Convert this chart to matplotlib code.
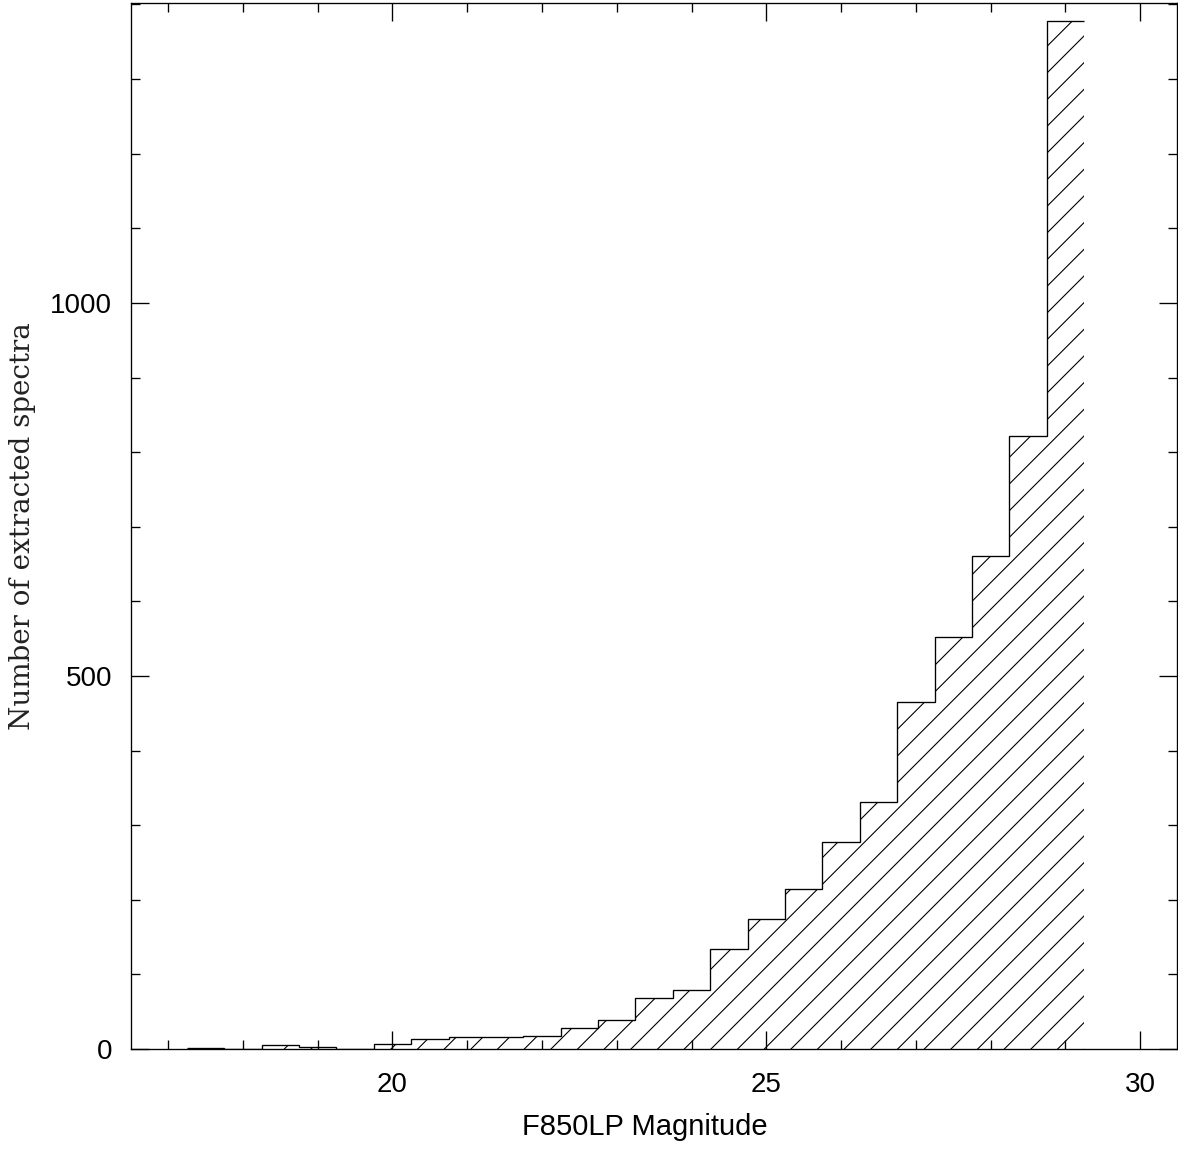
import numpy as np
import matplotlib.pyplot as plt
from matplotlib.ticker import MultipleLocator

# F850LP magnitude bins (0.5 mag wide) and counts of extracted spectra
bin_edges = np.arange(17.25, 29.26, 0.5)
counts = [1, 0, 5, 3, 0, 7, 13, 16, 16, 17, 28, 39, 68, 79,
          134, 174, 214, 277, 331, 465, 552, 661, 822, 1378]

plt.rcParams['hatch.linewidth'] = 0.5
plt.rcParams['hatch.color'] = 'black'

fig = plt.figure(figsize=(1178 / 160, 1151 / 160), dpi=160)
ax = fig.add_axes([0.1116, 0.0886, 0.8874, 0.9088])

# hatched fill under the histogram, then the step outline (no closing edges)
ax.stairs(counts, bin_edges, fill=True, hatch='//', facecolor='none',
          edgecolor='black', linewidth=0)
ax.stairs(counts, bin_edges, baseline=None, color='black', linewidth=0.6)

ax.set_xlim(16.51, 30.49)
ax.set_ylim(0, 1402)

ax.xaxis.set_major_locator(MultipleLocator(5))
ax.xaxis.set_minor_locator(MultipleLocator(1))
ax.yaxis.set_major_locator(MultipleLocator(500))
ax.yaxis.set_minor_locator(MultipleLocator(100))
ax.tick_params(which='both', direction='in', top=True, right=True,
               width=0.6, colors='black')
ax.tick_params(which='major', length=8, labelsize=12.5)
ax.tick_params(axis='x', which='major', pad=10.5)
ax.tick_params(axis='y', which='major', pad=8.7)
ax.tick_params(which='minor', length=4)
for lab in ax.get_xticklabels() + ax.get_yticklabels():
    lab.set_family('Liberation Sans')
for s in ax.spines.values():
    s.set_linewidth(0.6)

ax.set_xlabel('F850LP Magnitude', family='Liberation Sans', fontsize=13.1)
ax.xaxis.set_label_coords(0.491, -0.061)
ax.set_ylabel('Number of extracted spectra', family='DejaVu Serif',
              fontsize=12.5, color='#222222')
ax.yaxis.set_label_coords(-0.091, 0.5)

fig.savefig('out.png', dpi=160, facecolor='white')
